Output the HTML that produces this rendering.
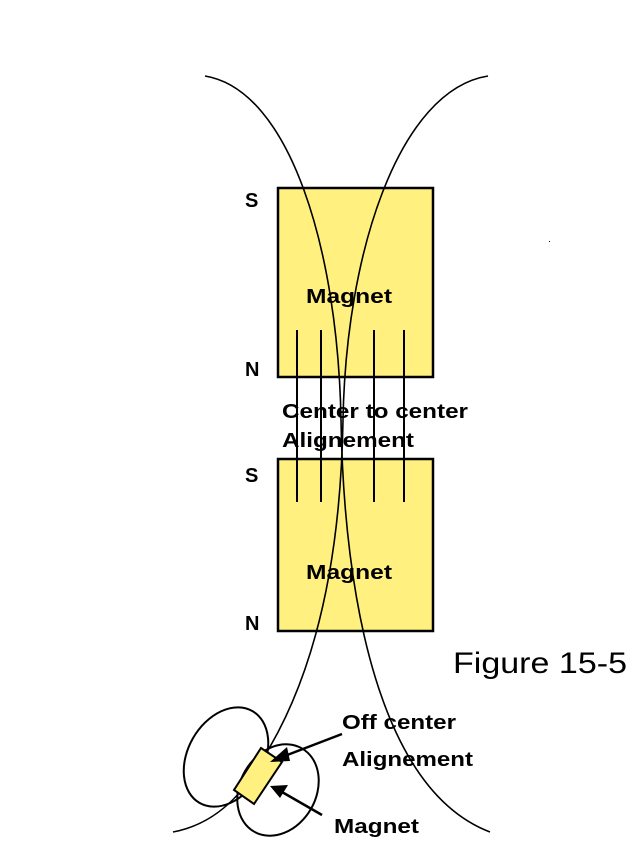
<!DOCTYPE html>
<html><head><style>body{margin:0;background:#fff}svg{display:block}</style></head><body>
<svg width="640" height="854" xmlns="http://www.w3.org/2000/svg" font-family="Liberation Sans, sans-serif">
<rect x="278" y="188" width="155" height="189" fill="#fff07f" stroke="#000" stroke-width="2.5"/>
<rect x="278" y="459" width="155" height="172" fill="#fff07f" stroke="#000" stroke-width="2.5"/>
<g stroke="#000" stroke-width="2">
<line x1="297" y1="330" x2="297" y2="502"/><line x1="321" y1="330" x2="321" y2="502"/>
<line x1="374" y1="330" x2="374" y2="502"/><line x1="404" y1="330" x2="404" y2="502"/>
</g>
<g fill="none" stroke="#000" stroke-width="1.6">
<path d="M205,76 C290,90 338,250 341,420 C344,600 380,790 490,832"/>
<path d="M488,76 C400,90 346,250 343,420 C340,600 300,700 262,760 C240,800 210,825 173,832"/>
<ellipse cx="226" cy="757" rx="38" ry="53" transform="rotate(30 226 757)" stroke-width="2"/>
<ellipse cx="278" cy="790" rx="38" ry="48" transform="rotate(30 278 790)" stroke-width="2"/>
</g>
<polygon points="261,748 282,762 254,804 234,790" fill="#fff07f" stroke="#000" stroke-width="2"/>
<g stroke="#000" stroke-width="2.5">
<line x1="342" y1="734" x2="282" y2="757"/><line x1="322" y1="815" x2="282" y2="792"/>
</g>
<polygon points="270,762 287,747 290,761" fill="#000"/>
<polygon points="270,786 288,785 280,798" fill="#000"/>
<g font-weight="bold" font-size="20" lengthAdjust="spacingAndGlyphs">
<text x="245" y="207" textLength="14">S</text><text x="245" y="376" textLength="15">N</text>
<text x="245" y="482" textLength="14">S</text><text x="245" y="630" textLength="15">N</text>
<text x="306" y="303" textLength="86" lengthAdjust="spacingAndGlyphs">Magnet</text>
<text x="306" y="579" textLength="86" lengthAdjust="spacingAndGlyphs">Magnet</text>
<text x="282" y="418" textLength="186" lengthAdjust="spacingAndGlyphs">Center to center</text>
<text x="282" y="447" textLength="132" lengthAdjust="spacingAndGlyphs">Alignement</text>
<text x="342" y="729" textLength="114" lengthAdjust="spacingAndGlyphs">Off center</text>
<text x="342" y="766" textLength="131" lengthAdjust="spacingAndGlyphs">Alignement</text>
<text x="334" y="833" textLength="85" lengthAdjust="spacingAndGlyphs">Magnet</text>
</g>
<text x="453" y="673" font-size="30" textLength="174" lengthAdjust="spacingAndGlyphs">Figure 15-5</text>
<rect x="549" y="241" width="1" height="1" fill="#000"/>
</svg>
</body></html>
